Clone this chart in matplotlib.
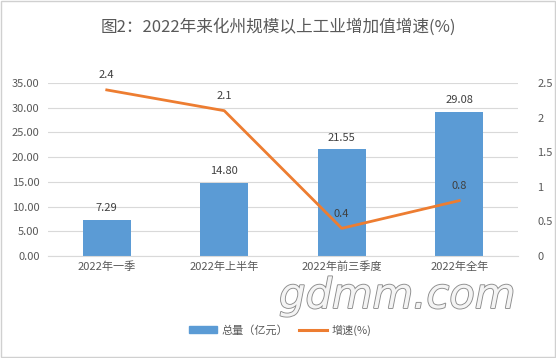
import matplotlib.pyplot as plt
import matplotlib.patheffects as pe
import numpy as np

plt.rcParams['font.family'] = ['Noto Sans CJK SC', 'DejaVu Sans']

categories = ["2022年一季", "2022年上半年", "2022年前三季度", "2022年全年"]
total = [7.29, 14.80, 21.55, 29.08]
growth = [2.4, 2.1, 0.4, 0.8]
growth_labels = ["2.4", "2.1", "0.4", "0.8"]
left_ticks = [0, 5, 10, 15, 20, 25, 30, 35]
right_ticks = [0, 0.5, 1, 1.5, 2, 2.5]
right_tick_labels = ["0", "0.5", "1", "1.5", "2", "2.5"]

bar_color = "#5B9BD5"
line_color = "#ED7D31"
text_color = "#595959"
grid_color = "#D9D9D9"

fig = plt.figure(figsize=(5.56, 3.58), dpi=100)
ax = fig.add_axes([48 / 556, 1 - 256 / 358, 470 / 556, 173 / 358])
ax2 = ax.twinx()

x = np.arange(len(categories))
ax.bar(x, total, width=0.41, color=bar_color, zorder=2)
for xi, v in zip(x, total):
    ax.annotate("%.2f" % v, (xi, v), xytext=(0, 5), textcoords="offset points",
                ha="center", va="bottom", fontsize=8, color="#404040")

ax2.plot(x, growth, color=line_color, linewidth=2.0, zorder=3)
for xi, v, lab in zip(x, growth, growth_labels):
    ax2.annotate(lab, (xi, v), xytext=(0, 7), textcoords="offset points",
                 ha="center", va="bottom", fontsize=8, color="#404040")

ax.set_xlim(-0.5, 3.5)
ax.set_ylim(0, 35)
ax2.set_ylim(0, 2.5)
ax.set_yticks(left_ticks)
ax.set_yticklabels(["%.2f" % t for t in left_ticks])
ax2.set_yticks(right_ticks)
ax2.set_yticklabels(right_tick_labels)
ax.set_xticks(x)
ax.set_xticklabels(categories)

ax.yaxis.grid(True, color=grid_color, linewidth=0.8, zorder=0)
ax.set_axisbelow(True)
for a in (ax, ax2):
    for s in a.spines.values():
        s.set_visible(False)
    a.tick_params(length=0, labelsize=8, labelcolor=text_color)
ax.spines["bottom"].set_visible(True)
ax.spines["bottom"].set_color(grid_color)
ax.tick_params(axis="y", pad=6)
ax2.tick_params(axis="y", pad=14)
ax.tick_params(axis="x", pad=4)

fig.text(0.5, 1 - 27 / 358, "图2：2022年来化州规模以上工业增加值增速(%)",
         ha="center", va="center", fontsize=12, color=text_color)

# watermark
fig.text(397 / 556, 1 - 296 / 358, "gdmm.com", ha="center", va="center",
         fontsize=30, color="#F4F4F4", family="DejaVu Sans", style="italic",
         path_effects=[pe.withStroke(linewidth=1.3, foreground="#8C8C8C")])

h1 = plt.Rectangle((0, 0), 1, 1, color=bar_color)
h2 = plt.Line2D([0], [0], color=line_color, linewidth=2.2)
fig.legend([h1, h2], ["总量（亿元）", "增速(%)"], loc="center", ncol=2,
           bbox_to_anchor=(280 / 556, 1 - 330 / 358), frameon=False,
           fontsize=8, labelcolor=text_color, handlelength=2.5,
           handleheight=0.6, columnspacing=1.0, handletextpad=0.4)

fig.patches.append(plt.Rectangle((0.002, 0.003), 0.996, 0.994, transform=fig.transFigure,
                                 fill=False, edgecolor="#D0D0D0", linewidth=1))

fig.savefig("out.png", dpi=100)
